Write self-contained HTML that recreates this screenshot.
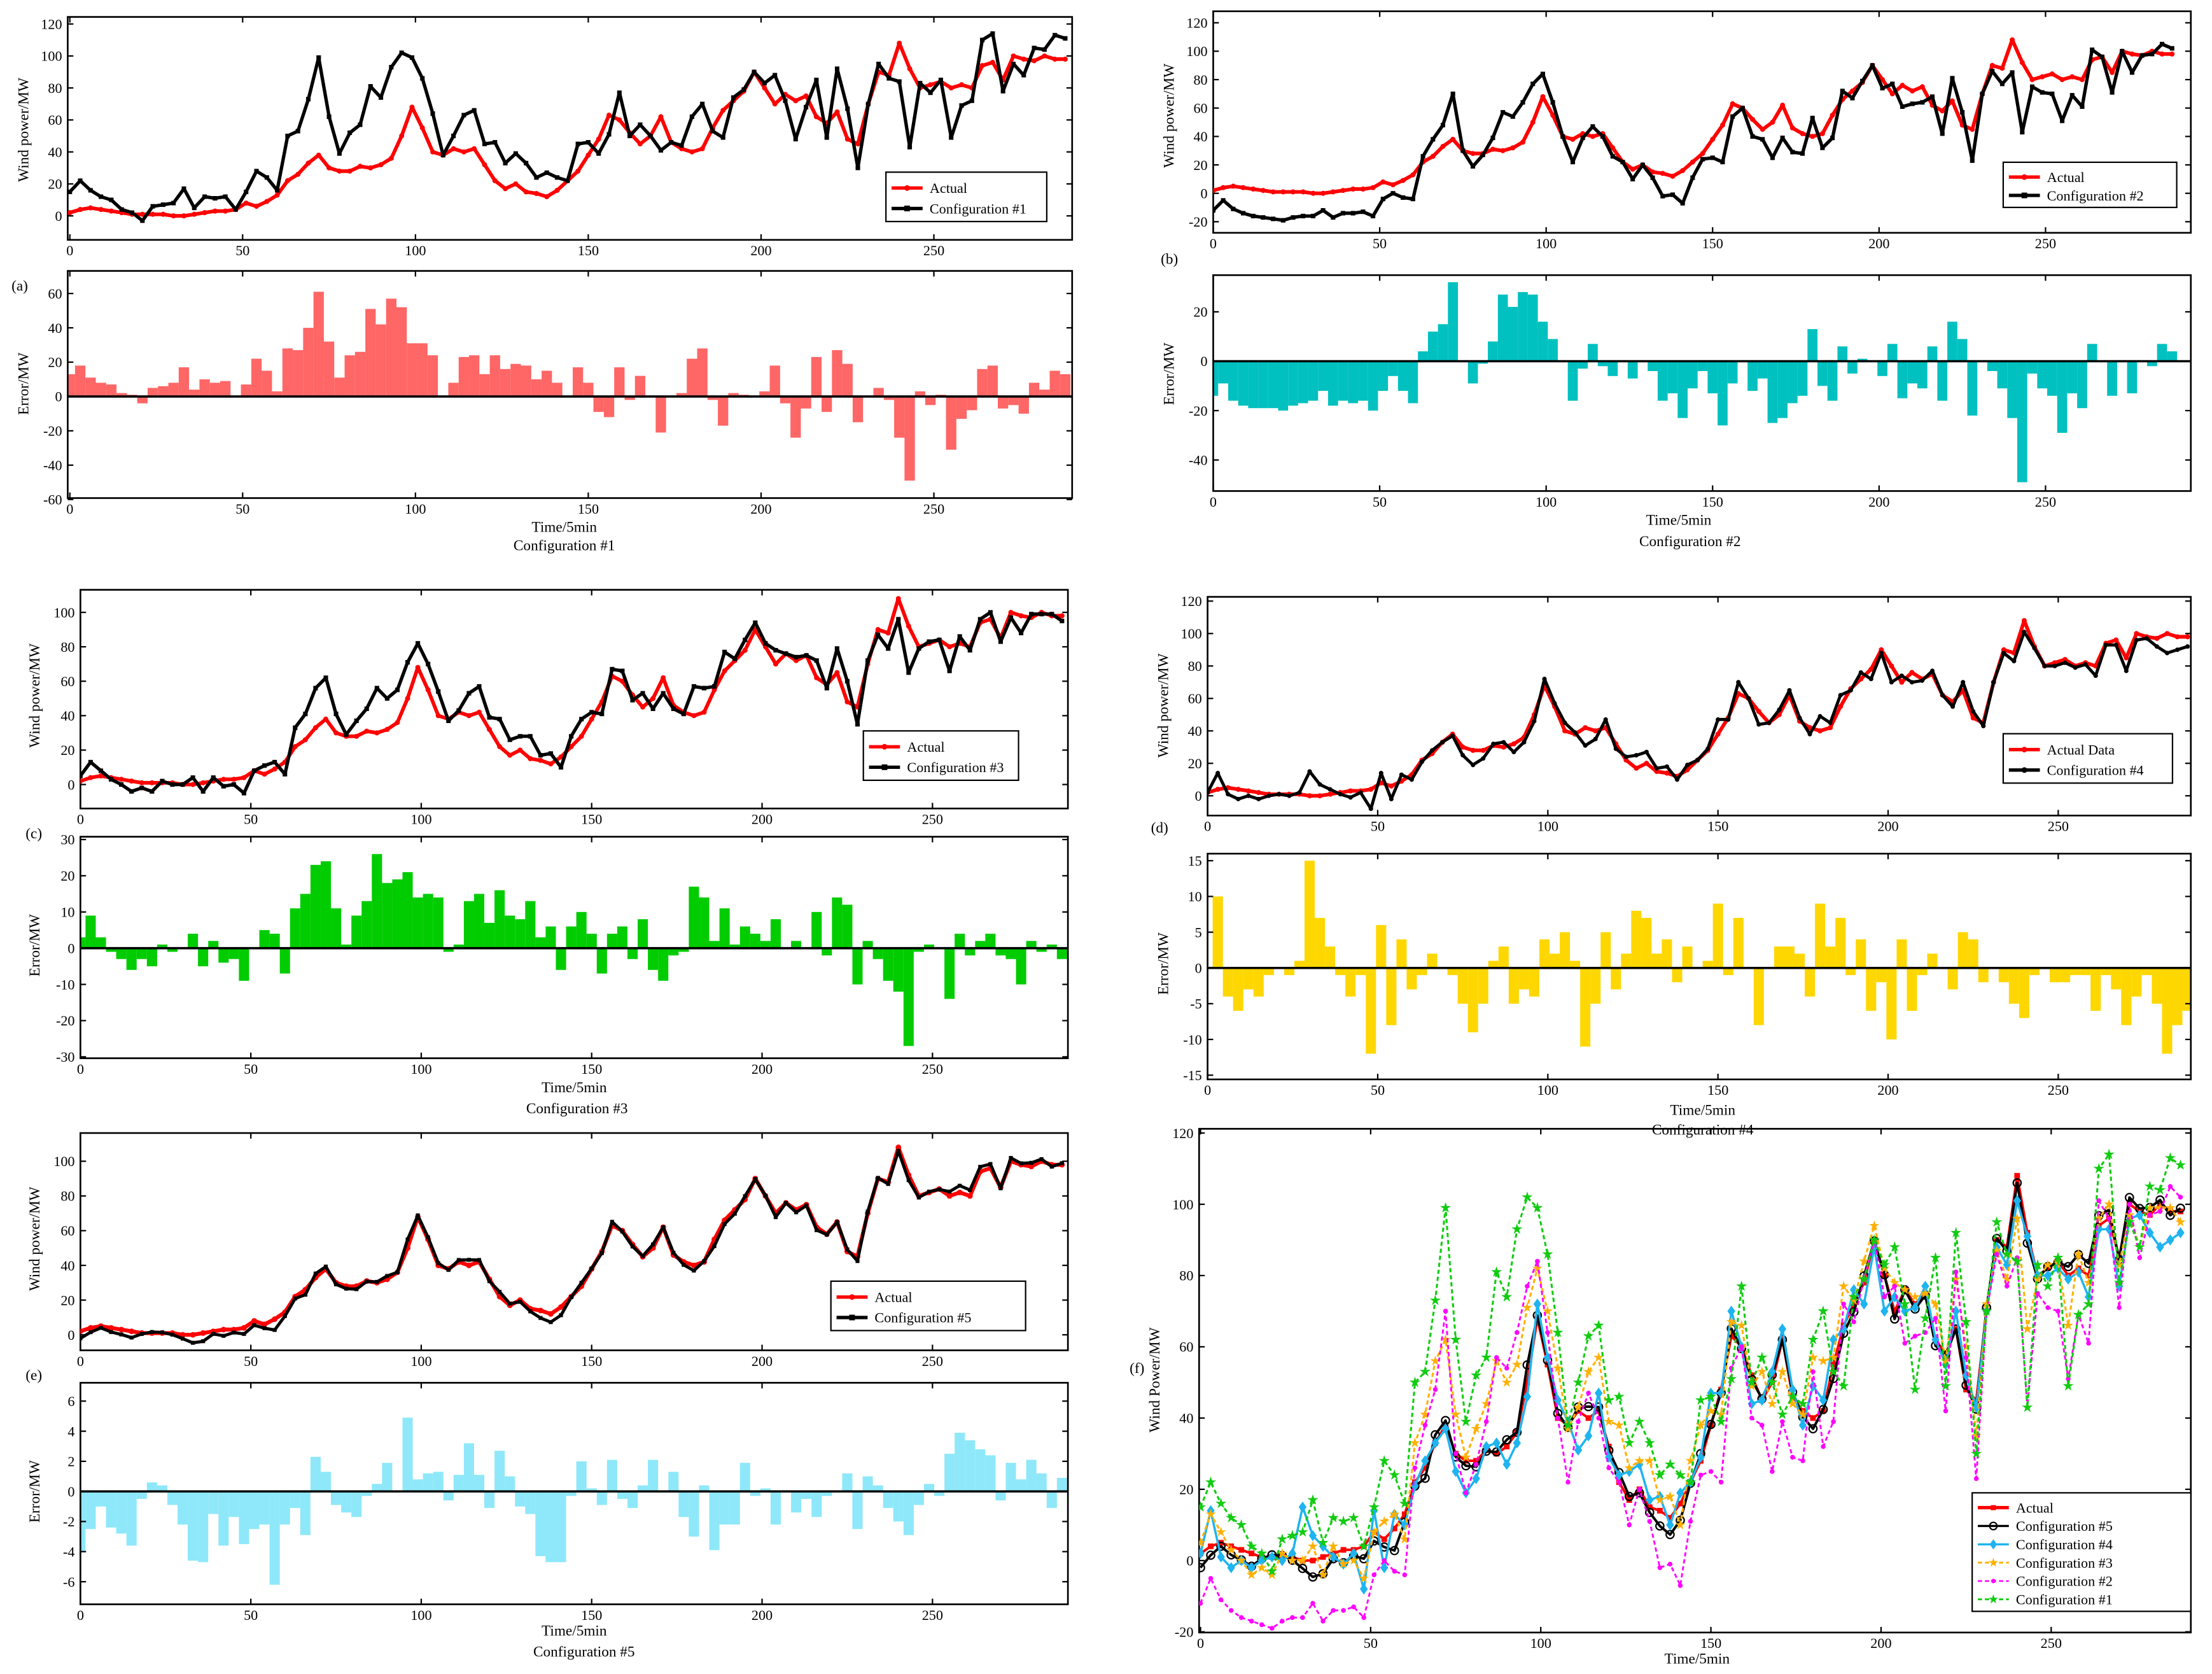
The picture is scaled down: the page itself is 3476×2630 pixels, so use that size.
<!DOCTYPE html>
<html><head><meta charset="utf-8"><title>Wind power forecast configurations</title>
<style>
html,body{margin:0;padding:0;background:#fff;}
svg{display:block;}
text{font-family:"Liberation Serif",serif;fill:#000;}
</style></head>
<body>
<svg id="fig" xmlns="http://www.w3.org/2000/svg" width="3476" height="2630" viewBox="0 0 1568 1186.4" preserveAspectRatio="none"></svg>
<script>
const timeSteps = Array.from({length:97},(_,i)=>i*3);
const actual = [2,4,5,4,3,2,1,1,1,1,0,0,1,2,3,3,4,8,6,9,13,22,26,33,38,30,28,28,31,30,32,36,50,68,55,40,38,42,40,42,32,22,17,20,15,14,12,16,22,28,38,48,63,60,52,45,50,62,46,42,40,42,55,66,72,78,90,80,70,76,72,75,62,58,65,48,45,70,90,88,108,92,80,82,84,80,82,80,94,96,85,100,98,97,100,98,98];
const err1 = [13,18,11,8,7,2,1,-4,5,6,8,17,4,10,8,9,0,7,22,15,3,28,27,40,61,32,11,24,26,51,42,57,52,31,31,24,0,8,23,24,13,24,16,19,18,10,15,8,0,17,8,-9,-12,17,-2,12,0,-21,0,2,22,28,-2,-17,2,1,0,3,18,-4,-24,-7,23,-9,27,19,-15,0,5,-2,-24,-49,3,-5,1,-31,-13,-8,16,18,-7,-5,-10,8,4,15,13];
const err2 = [-14,-9,-16,-18,-19,-19,-19,-20,-18,-17,-16,-12,-18,-16,-17,-16,-20,-12,-6,-12,-17,4,12,15,32,0,-9,-1,8,27,22,28,27,16,9,0,-16,-3,7,-2,-6,0,-7,0,-4,-16,-13,-23,-11,-4,-13,-26,-9,0,-12,-7,-25,-23,-17,-14,13,-10,-16,6,-5,1,0,-6,7,-15,-9,-11,6,-16,16,9,-22,0,-4,-11,-23,-49,-5,-11,-14,-29,-13,-19,7,0,-14,0,-13,0,-2,7,4];
const err3 = [3,9,3,-1,-3,-6,-3,-5,1,-1,0,4,-5,2,-4,-3,-9,0,5,4,-7,11,15,23,24,11,1,9,13,26,18,19,21,14,15,14,-1,1,13,15,7,16,9,8,13,3,6,-6,6,10,4,-7,4,6,-3,8,-6,-9,-2,-1,17,14,2,11,1,6,4,2,8,0,2,0,10,-2,14,12,-10,2,-3,-9,-12,-27,-1,1,0,-14,4,-2,2,4,-2,-3,-10,2,-1,1,-3];
const err4 = [0,10,-4,-6,-3,-4,-1,0,-1,1,15,7,3,-1,-4,-1,-12,6,-8,4,-3,-1,2,0,-1,-5,-9,-5,1,3,-5,-3,-4,4,2,5,1,-11,-5,5,-3,2,8,7,2,4,-2,3,0,1,9,-1,7,0,-8,0,3,3,2,-4,9,3,7,-1,4,-6,-2,-10,4,-6,-1,2,0,-3,5,4,-2,0,-2,-5,-7,-1,0,-2,-2,-1,-1,-6,-1,-3,-8,-4,-1,-5,-12,-8,-6];
const err5 = [-4,-2.5,-1,-2.4,-2.8,-3.6,-0.5,0.6,0.4,-0.9,-2.2,-4.6,-4.7,-1.5,-3.6,-1.7,-3.5,-2.5,-2.2,-6.2,-2.2,-1.1,-2.9,2.3,1.3,-0.9,-1.4,-1.7,-0.3,0.5,1.9,0,4.9,0.8,1.2,1.3,-0.6,1.1,3.2,1.1,-1.1,2.7,1,-1,-1.5,-4.3,-4.7,-4.7,-0.3,2,0.2,-0.9,2.1,-0.5,-1.1,0.4,2.1,0,1.3,-1.7,-3,0.4,-3.9,-2.2,-2.2,1.9,-0.3,0.2,-2.2,0,-1.4,-0.5,-1.7,-0.3,0,1.2,-2.5,1,0.4,-1.1,-2,-2.9,-0.9,0.5,-0.3,2.5,3.9,3.4,2.8,2.4,-0.6,1.9,0.8,2.1,1.2,-1.1,0.9];
const xTickLabels = [0,50,100,150,200,250];

const NS="http://www.w3.org/2000/svg";
const svg=document.getElementById('fig');
function el(tag,attrs,parent){const e=document.createElementNS(NS,tag);for(const k in attrs)e.setAttribute(k,attrs[k]);(parent||svg).appendChild(e);return e;}
function txt(x,y,s,size,anchor,parent,rot){const e=el('text',{x:x,y:y,'font-size':size,'text-anchor':anchor||'middle'},parent);if(rot)e.setAttribute('transform','rotate(-90 '+x+' '+y+')');e.textContent=s;return e;}

function makePanel(c){
  c.sx=t=>c.x0+t*c.ux;
  c.sy=v=>c.y0-v*c.uy;
  return c;
}
function drawAxes(p,name){
  const g=el('g',{});
  
  
  const [L,T,R,B]=p.box;
  const fr=el('rect',{x:L,y:T,width:R-L,height:B-T,fill:'none',stroke:'#000','stroke-width':1.2},g);
  
  
  for(const v of p.yticks){
    const y=p.sy(v);
    el('line',{x1:L,y1:y,x2:L+4,y2:y,stroke:'#000','stroke-width':1},g);
    el('line',{x1:R,y1:y,x2:R-4,y2:y,stroke:'#000','stroke-width':1},g);
    const t=txt(L-4,y+3.5,String(v),10,'end',g);
    
    
  }
  for(const v of xTickLabels){
    const x=p.sx(v);
    el('line',{x1:x,y1:B,x2:x,y2:B-4,stroke:'#000','stroke-width':1},g);
    el('line',{x1:x,y1:T,x2:x,y2:T+4,stroke:'#000','stroke-width':1},g);
    const t=txt(x,B+11,String(v),10,'middle',g);
    
    
  }
  return g;
}
function clipFor(p,id){
  const cp=el('clipPath',{id:id});
  el('rect',{x:p.box[0],y:p.box[1],width:p.box[2]-p.box[0],height:p.box[3]-p.box[1]},cp);
  return 'url(#'+id+')';
}
function marker(g,shape,x,y,color,s){
  if(shape==='dot'){el('circle',{cx:x,cy:y,r:s,fill:color},g);}
  else if(shape==='square'){el('rect',{x:x-s,y:y-s,width:2*s,height:2*s,fill:color},g);}
  else if(shape==='circle'){el('circle',{cx:x,cy:y,r:s,fill:'none',stroke:color,'stroke-width':1},g);}
  else if(shape==='diamond'){el('polygon',{points:`${x},${y-s*1.4} ${x+s},${y} ${x},${y+s*1.4} ${x-s},${y}`,fill:color},g);}
  else if(shape==='star'){let pts=[];for(let k=0;k<10;k++){const a=-Math.PI/2+k*Math.PI/5;const r=k%2?s*0.45:s*1.2;pts.push((x+r*Math.cos(a)).toFixed(1)+','+(y+r*Math.sin(a)).toFixed(1));}el('polygon',{points:pts.join(' '),fill:color},g);}
}
function drawLine(p,vals,color,width,dash,shape,ms,name,clip){
  const g=el('g',{'clip-path':clip});
  
  
  const pts=vals.map((v,i)=>p.sx(timeSteps[i]).toFixed(1)+','+p.sy(v).toFixed(1)).join(' ');
  const pl=el('polyline',{points:pts,fill:'none',stroke:color,'stroke-width':width,'stroke-linejoin':'round'},g);
  if(dash)pl.setAttribute('stroke-dasharray',dash);
  vals.forEach((v,i)=>marker(g,shape,p.sx(timeSteps[i]),p.sy(v),color,ms));
  return g;
}
function drawBars(p,vals,color,name){
  const g=el('g',{});
  
  
  const w=3*p.ux;
  vals.forEach((v,i)=>{
    const x=p.sx(timeSteps[i])-w/2;
    const y0=p.sy(0),y1=p.sy(v);
    const r=el('rect',{x:Math.max(x,p.box[0]).toFixed(2),y:Math.min(y0,y1).toFixed(2),width:(Math.min(x+w,p.box[2])-Math.max(x,p.box[0])).toFixed(2),height:Math.abs(y1-y0).toFixed(2),fill:color},g);
    
    
  });
  el('line',{x1:p.box[0],y1:p.sy(0),x2:p.box[2],y2:p.sy(0),stroke:'#000','stroke-width':1.6},g);
}
function legend(x,y,w,entries,name,rowH){
  const g=el('g',{});
  
  
  const h=entries.length*rowH+6;
  el('rect',{x:x,y:y,width:w,height:h,fill:'#fff',stroke:'#000','stroke-width':1},g);
  entries.forEach((e,i)=>{
    const cy=y+4+rowH*(i+0.5);
    const ln=el('line',{x1:x+4,y1:cy,x2:x+26,y2:cy,stroke:e.c,'stroke-width':e.w||2.4},g);
    if(e.d)ln.setAttribute('stroke-dasharray',e.d);
    marker(g,e.m,x+15,cy,e.c,e.s||2);
    const t=txt(x+31,cy+3.5,e.label,10,'start',g);
    
    
  });
}
function addSum(a,b){return a.map((v,i)=>v+b[i]);}

// ---- panels ----
const P={
 aTop:makePanel({box:[48,12,760,170],x0:49.5,ux:2.45,y0:153,uy:136/120,yticks:[0,20,40,60,80,100,120]}),
 aBot:makePanel({box:[48,192,760,353],x0:49.5,ux:2.45,y0:281,uy:73/60,yticks:[-60,-40,-20,0,20,40,60]}),
 bTop:makePanel({box:[860,8,1553,165],x0:860,ux:2.36,y0:137,uy:141/140,yticks:[-20,0,20,40,60,80,100,120]}),
 bBot:makePanel({box:[860,195,1553,348],x0:860,ux:2.36,y0:256,uy:1.75,yticks:[-40,-20,0,20]}),
 cTop:makePanel({box:[57,418,757,573],x0:57,ux:2.416,y0:556,uy:1.22,yticks:[0,20,40,60,80,100]}),
 cBot:makePanel({box:[57,593,757,750],x0:57,ux:2.416,y0:672,uy:77/30,yticks:[-30,-20,-10,0,10,20,30]}),
 dTop:makePanel({box:[856,423,1553,578],x0:856,ux:2.412,y0:564,uy:1.15,yticks:[0,20,40,60,80,100,120]}),
 dBot:makePanel({box:[856,605,1553,765],x0:856,ux:2.412,y0:686,uy:76/15,yticks:[-15,-10,-5,0,5,10,15]}),
 eTop:makePanel({box:[57,803,757,957],x0:57,ux:2.416,y0:946,uy:1.23,yticks:[0,20,40,60,80,100]}),
 eBot:makePanel({box:[57,980,757,1137],x0:57,ux:2.416,y0:1057,uy:64/6,yticks:[-6,-4,-2,0,2,4,6]}),
 f:makePanel({box:[850,800,1553,1157],x0:851,ux:2.412,y0:1106,uy:303/120,yticks:[-20,0,20,40,60,80,100,120]})
};
const cfg1=addSum(actual,err1),cfg2=addSum(actual,err2),cfg3=addSum(actual,err3),cfg4=addSum(actual,err4),cfg5=addSum(actual,err5);

// (a)
drawAxes(P.aTop,'panel-a-top');
let c=clipFor(P.aTop,'ca1');
drawLine(P.aTop,actual,'#ff0000',2.6,null,'dot',1.8,'actual-line-a',c);
drawLine(P.aTop,cfg1,'#000',2.4,null,'square',1.6,'config1-line-a',c);
legend(628,122,114,[{c:'#ff0000',m:'dot',label:'Actual'},{c:'#000',m:'square',label:'Configuration #1'}],'legend-a',14.5);
drawBars(P.aBot,err1,'#ff6666','error-bars-a');
drawAxes(P.aBot,'panel-a-bottom');
// (b)
drawAxes(P.bTop,'panel-b-top');
c=clipFor(P.bTop,'cb1');
drawLine(P.bTop,actual,'#ff0000',2.6,null,'dot',1.8,'actual-line-b',c);
drawLine(P.bTop,cfg2,'#000',2.4,null,'square',1.6,'config2-line-b',c);
legend(1420,115,123,[{c:'#ff0000',m:'dot',label:'Actual'},{c:'#000',m:'square',label:'Configuration #2'}],'legend-b',13);
drawBars(P.bBot,err2,'#00c0c0','error-bars-b');
drawAxes(P.bBot,'panel-b-bottom');
// (c)
drawAxes(P.cTop,'panel-c-top');
c=clipFor(P.cTop,'cc1');
drawLine(P.cTop,actual,'#ff0000',2.6,null,'dot',1.8,'actual-line-c',c);
drawLine(P.cTop,cfg3,'#000',2.4,null,'square',1.6,'config3-line-c',c);
legend(612,518,110,[{c:'#ff0000',m:'dot',label:'Actual'},{c:'#000',m:'square',label:'Configuration #3'}],'legend-c',14.5);
drawBars(P.cBot,err3,'#00cc00','error-bars-c');
drawAxes(P.cBot,'panel-c-bottom');
// (d)
drawAxes(P.dTop,'panel-d-top');
c=clipFor(P.dTop,'cd1');
drawLine(P.dTop,actual,'#ff0000',2.6,null,'dot',1.8,'actual-line-d',c);
drawLine(P.dTop,cfg4,'#000',2.2,null,'dot',1.6,'config4-line-d',c);
legend(1420,520,120,[{c:'#ff0000',m:'dot',label:'Actual Data'},{c:'#000',m:'dot',label:'Configuration #4'}],'legend-d',14.5);
drawBars(P.dBot,err4,'#ffd700','error-bars-d');
drawAxes(P.dBot,'panel-d-bottom');
// (e)
drawAxes(P.eTop,'panel-e-top');
c=clipFor(P.eTop,'ce1');
drawLine(P.eTop,actual,'#ff0000',2.8,null,'dot',2,'actual-line-e',c);
drawLine(P.eTop,cfg5,'#000',2.2,null,'square',1.4,'config5-line-e',c);
legend(589,908,138,[{c:'#ff0000',m:'dot',label:'Actual'},{c:'#000',m:'square',label:'Configuration #5'}],'legend-e',14.5);
drawBars(P.eBot,err5,'#8ee8fa','error-bars-e');
drawAxes(P.eBot,'panel-e-bottom');
// (f)
drawAxes(P.f,'panel-f');
c=clipFor(P.f,'cf1');
drawLine(P.f,actual,'#ff0000',1.8,null,'square',2,'actual-line-f',c);
drawLine(P.f,cfg5,'#000',1.8,null,'circle',2.8,'config5-line-f',c);
drawLine(P.f,cfg4,'#1eb4f0',1.6,null,'diamond',2.8,'config4-line-f',c);
drawLine(P.f,cfg3,'#ffb000',1.4,'3,2','star',3.2,'config3-line-f',c);
drawLine(P.f,cfg2,'#ff00ff',1.3,'3,2','dot',1.7,'config2-line-f',c);
drawLine(P.f,cfg1,'#11cc11',1.4,'3,2','star',3.4,'config1-line-f',c);
legend(1398,1058,155,[
 {c:'#ff0000',m:'square',label:'Actual',s:1.8},
 {c:'#000',m:'circle',label:'Configuration #5',s:2.6,w:1.5},
 {c:'#1eb4f0',m:'diamond',label:'Configuration #4',s:2.6,w:1.5},
 {c:'#ffb000',m:'star',label:'Configuration #3',s:3,d:'3,2',w:1.3},
 {c:'#ff00ff',m:'dot',label:'Configuration #2',s:1.6,d:'3,2',w:1.2},
 {c:'#11cc11',m:'star',label:'Configuration #1',s:3,d:'3,2',w:1.3}],'legend-f',13);

// ---- labels ----
const labels=[
 [20,92,'Wind power/MW',true,'y-axis-title-a-top'],[20,272,'Error/MW',true,'y-axis-title-a-bottom'],
 [832,82,'Wind power/MW',true,'y-axis-title-b-top'],[832,265,'Error/MW',true,'y-axis-title-b-bottom'],
 [28,493,'Wind power/MW',true,'y-axis-title-c-top'],[28,670,'Error/MW',true,'y-axis-title-c-bottom'],
 [828,500,'Wind power/MW',true,'y-axis-title-d-top'],[828,683,'Error/MW',true,'y-axis-title-d-bottom'],
 [28,878,'Wind power/MW',true,'y-axis-title-e-top'],[28,1057,'Error/MW',true,'y-axis-title-e-bottom'],
 [822,978,'Wind Power/MW',true,'y-axis-title-f'],
 [400,377,'Time/5min',false,'x-axis-title-a'],[400,390,'Configuration #1',false,'caption-a'],
 [1190,372,'Time/5min',false,'x-axis-title-b'],[1198,387,'Configuration #2',false,'caption-b'],
 [407,774,'Time/5min',false,'x-axis-title-c'],[409,789,'Configuration #3',false,'caption-c'],
 [1207,790,'Time/5min',false,'x-axis-title-d'],[1207,804,'Configuration #4',false,'caption-d'],
 [407,1159,'Time/5min',false,'x-axis-title-e'],[414,1174,'Configuration #5',false,'caption-e'],
 [1203,1179,'Time/5min',false,'x-axis-title-f'],
 [14,206,'(a)',false,'panel-label-a'],[829,187,'(b)',false,'panel-label-b'],[24,594,'(c)',false,'panel-label-c'],
 [822,590,'(d)',false,'panel-label-d'],[24,978,'(e)',false,'panel-label-e'],[806,973,'(f)',false,'panel-label-f']
];
for(const [x,y,s,rot,nm] of labels){
  const t=txt(x,y,s,10.5,'middle',svg,rot);
  
  
}
</script>
</body></html>
